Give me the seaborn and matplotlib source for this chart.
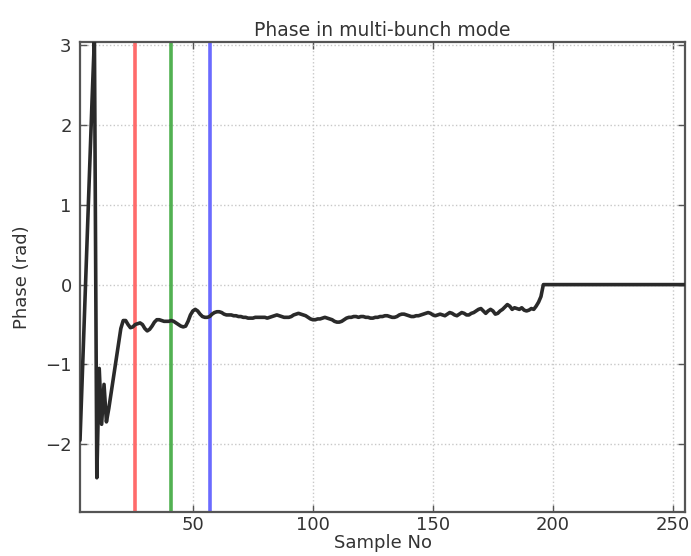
import numpy as np
import pandas as pd
import matplotlib
matplotlib.use("Agg")
import matplotlib.pyplot as plt
import seaborn as sns

# ---- data ----
first_sample = 3
phase_start = [-1.95, -1.1, -0.25, 0.6, 1.45, 2.3, 3.1,          # 3-9
               -2.42, -1.05, -1.75, -1.25, -1.72,                # 10-14
               -1.55, -1.35, -1.15, -0.95, -0.75, -0.55, -0.45]  # 15-21
phase_settle = [-0.45, -0.5, -0.54, -0.53, -0.5, -0.49, -0.48, -0.5, -0.55,
                -0.58, -0.56, -0.52, -0.47, -0.44, -0.44, -0.45, -0.46, -0.46,
                -0.46, -0.45, -0.46, -0.48, -0.5, -0.52, -0.53, -0.52, -0.46,
                -0.38, -0.33, -0.31, -0.33, -0.37, -0.4, -0.41, -0.41, -0.4,
                -0.37, -0.35, -0.34]                                # 22-60
phase_mid = [-0.34, -0.35, -0.37, -0.38, -0.38, -0.38, -0.39, -0.39, -0.4,
             -0.4, -0.41, -0.41, -0.42, -0.42, -0.42, -0.41, -0.41, -0.41,
             -0.41, -0.41, -0.42, -0.41, -0.4, -0.39, -0.38, -0.39, -0.4,
             -0.41, -0.41, -0.41, -0.4, -0.38, -0.37, -0.36, -0.37, -0.38,
             -0.39, -0.41, -0.43, -0.44, -0.44, -0.43, -0.43, -0.42, -0.41,
             -0.42, -0.43, -0.44, -0.46, -0.47, -0.47, -0.46, -0.44, -0.42,
             -0.41, -0.41, -0.4, -0.4, -0.41, -0.4]                 # 61-120
phase_late = [-0.4, -0.41, -0.41, -0.42, -0.42, -0.41, -0.41, -0.4, -0.4,
              -0.39, -0.39, -0.4, -0.41, -0.41, -0.4, -0.38, -0.37, -0.37,
              -0.38, -0.39, -0.4, -0.4, -0.39, -0.39, -0.38, -0.37, -0.36,
              -0.35, -0.36, -0.38, -0.39, -0.38, -0.37, -0.38, -0.39, -0.37,
              -0.35, -0.36, -0.38, -0.39, -0.37, -0.35, -0.36, -0.38, -0.38,
              -0.36, -0.35, -0.33, -0.31, -0.3, -0.33, -0.36, -0.33, -0.31,
              -0.33, -0.37, -0.36, -0.33, -0.31, -0.28, -0.25, -0.27, -0.31,
              -0.29, -0.3, -0.31, -0.29, -0.32, -0.33, -0.32, -0.3, -0.31,
              -0.27, -0.22, -0.15]                                   # 121-195
phase_tail = [0.0, 0.0, 0.0, 0.0, 0.0, 0.0, 0.0, 0.0, 0.0, 0.0,
              0.0, 0.0, 0.0, 0.0, 0.0, 0.0, 0.0, 0.0, 0.0, 0.0,
              0.0, 0.0, 0.0, 0.0, 0.0, 0.0, 0.0, 0.0, 0.0, 0.0,
              0.0, 0.0, 0.0, 0.0, 0.0, 0.0, 0.0, 0.0, 0.0, 0.0,
              0.0, 0.0, 0.0, 0.0, 0.0, 0.0, 0.0, 0.0, 0.0, 0.0,
              0.0, 0.0, 0.0, 0.0, 0.0, 0.0, 0.0, 0.0, 0.0, 0.0]      # 196-255

marker_samples = [26, 41, 57]
marker_colors = ["#ff6b6b", "#52b152", "#6b6bff"]

x_ticks = [50, 100, 150, 200, 250]
y_ticks = [-2, -1, 0, 1, 2, 3]

title = "Phase in multi-bunch mode"
xlabel = "Sample No"
ylabel = "Phase (rad)"

# ---- build table ----
phase = phase_start + phase_settle + phase_mid + phase_late + phase_tail
df = pd.DataFrame({"sample": np.arange(first_sample, first_sample + len(phase)),
                   "phase": phase})

sns.set_style("white")
plt.rcParams["font.family"] = ["DejaVu Sans"]

fig = plt.figure(figsize=(6.91, 5.56), dpi=100)
ax = fig.add_axes([0.1158, 0.079, 0.8755, 0.8455])

for xs, c in zip(marker_samples, marker_colors):
    ax.axvline(xs, color=c, lw=2.6, zorder=2)

sns.lineplot(data=df, x="sample", y="phase", ax=ax, color="#2a2a2a",
             lw=2.6, zorder=3)

ax.set_xlim(3, 255)
ax.set_ylim(-2.85, 3.04)
ax.set_xticks(x_ticks)
ax.set_yticks(y_ticks)
ax.grid(True, color="#c8c8c8", linestyle=":", lw=1.0)
ax.set_axisbelow(True)

for s in ax.spines.values():
    s.set_color("#555555")
    s.set_linewidth(1.6)

ax.tick_params(direction="in", length=5, width=1, color="#555555",
               labelsize=13, labelcolor="#333333", top=True, right=True,
               bottom=True, left=True)
ax.tick_params(axis="x", pad=3)
ax.tick_params(axis="y", pad=6)
ax.set_title(title, fontsize=13.5, color="#333333", pad=4)
ax.set_xlabel(xlabel, fontsize=13, color="#333333", labelpad=0)
ax.set_ylabel(ylabel, fontsize=13, color="#333333", labelpad=10)

fig.savefig("out.png", dpi=100)
